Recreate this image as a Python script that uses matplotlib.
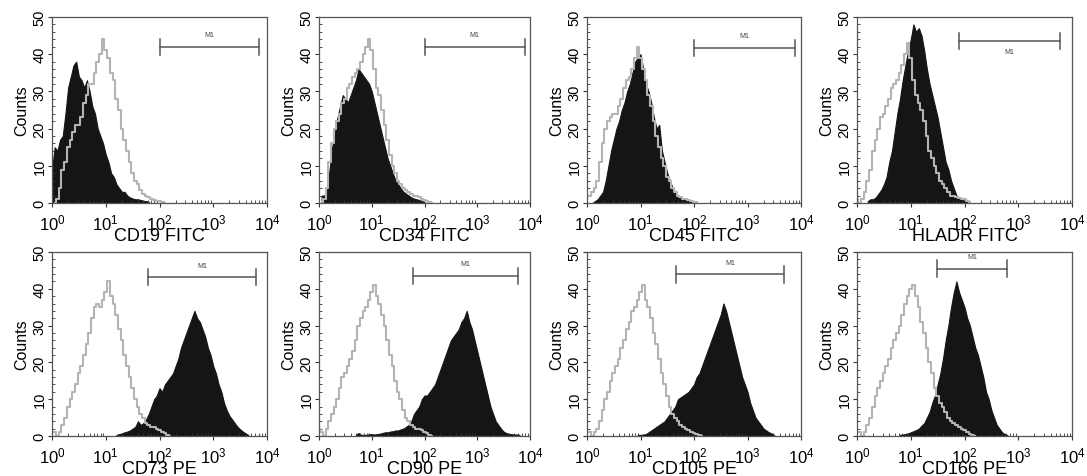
import numpy as np
import matplotlib
matplotlib.use("Agg")
import matplotlib.pyplot as plt
from matplotlib.ticker import LogLocator, MultipleLocator, NullFormatter

plt.rcParams['font.family'] = ['Liberation Sans', 'DejaVu Sans']

# histogram bins are 0.05 decade wide; each series = (first bin in log10, counts)
step = 0.05

markers = ['CD19 FITC', 'CD34 FITC', 'CD45 FITC', 'HLADR FITC',
           'CD73 PE', 'CD90 PE', 'CD105 PE', 'CD166 PE']

# grey outline = isotype control
iso_start = [0.05, 0.05, 0.00, 0.00, 0.00, 0.00, 0.00, 0.00]
cd19_iso = [0, 1, 4, 9, 11, 15, 17, 19, 21, 21, 23, 27, 29, 32, 32, 35, 38, 40, 44, 41,
            39, 35, 33, 28, 25, 20, 17, 14, 11, 8, 6, 5, 3.5, 2.5, 2, 1.5, 1, 0.8, 0.6, 0.5, 0.3, 0]
cd34_iso = [0, 1, 4, 11, 16, 20, 22, 24, 27, 28, 31, 32, 34, 35, 36, 38, 40, 42, 44, 41,
            36, 31, 29, 25, 21, 17, 13, 10, 8, 6, 5, 4, 3.5, 3, 2.5, 2, 1.8, 1.5, 1, 0.8, 0.6, 0.4, 0]
cd45_iso = [2, 2, 3, 4, 6, 11, 16, 20, 22, 23, 24, 24, 26, 28, 31, 33, 34, 36, 39, 42,
            39, 36, 33, 29, 26, 22, 18, 15, 12, 10, 7, 6, 4, 3, 2, 1.5, 1.2, 1, 0.7, 0.5, 0.4, 0.2]
hladr_iso = [1, 0, 1, 3, 6, 9, 14, 17, 20, 23, 24, 26, 28, 31, 32, 33, 35, 37, 40, 43,
             39, 33, 29, 27, 25, 22, 18, 14, 12, 10, 8, 6, 5, 4, 3, 2, 1.8, 1.5, 1.3, 1, 1, 0.6, 0.3]
cd73_iso = [1, 1, 0, 1, 3, 5, 8, 10, 12, 14, 17, 19, 22, 25, 28, 32, 35, 36, 35, 37,
            39, 42, 38, 36, 33, 29, 26, 22, 19, 16, 13, 10, 8, 6, 5, 3.5, 3, 2.5, 2.5, 2,
            1.5, 1, 0.7, 0.4, 0]
cd90_iso = [2, 1, 0, 2, 4, 6, 8, 10, 13, 16, 17, 19, 21, 23, 26, 30, 32, 34, 35, 37,
            39, 41, 38, 36, 33, 30, 26, 22, 19, 15, 12, 10, 7, 5, 4, 3, 2.5, 2, 1.8, 1.5,
            1, 0.7, 0.4, 0]
cd105_iso = [1, 1, 0, 1, 2, 4, 7, 10, 12, 15, 17, 19, 21, 24, 26, 29, 31, 34, 35, 37,
             39, 41, 37, 35, 32, 28, 25, 21, 17, 14, 11, 8, 6, 5, 4, 3, 2.5, 2, 1.5, 1,
             0.8, 0.6, 0.4, 0]
cd166_iso = [1, 1, 0, 1, 3, 5, 8, 11, 13, 15, 17, 19, 21, 24, 26, 28, 30, 33, 36, 38,
             40, 41, 38, 35, 31, 28, 24, 20, 17, 13, 11, 9, 8, 6.5, 5, 4, 3.5, 3, 2.5, 2,
             1.5, 1, 0.6, 0.3, 0]

# black filled = stained sample
stain_start = [0.00, 0.05, 0.10, 0.20, 1.20, 0.70, 0.95, 0.80]
cd19_stain = [9, 15, 14, 17, 18, 24, 31, 34, 37, 38, 34, 33, 31, 33, 30, 26, 24, 20, 18, 16,
              13, 11, 8, 7, 5, 4, 3, 3, 2, 1.5, 1.2, 1, 1, 0.8, 0.6, 0.5, 0.3]
cd34_stain = [2, 2, 3, 9, 15, 19, 23, 26, 29, 28, 27, 29, 31, 33, 36, 35, 34, 33, 32, 30,
              27, 24, 21, 18, 15, 12, 10, 8, 6, 5, 4, 3, 2.5, 2, 1.5, 1.2, 1, 0.8, 0.5, 0.3]
cd45_stain = [0, 0.5, 1, 2, 3, 6, 10, 14, 17, 20, 22, 25, 27, 30, 32, 35, 38, 39, 40, 36,
              32, 30, 27, 23, 20, 21, 14, 11, 8, 6, 4, 3, 2, 1.5, 1, 0.7, 0.5, 0.2]
hladr_stain = [0.5, 1, 1, 1.5, 2.5, 3.5, 5, 7, 11, 14, 19, 24, 28, 33, 37, 41, 44, 48, 46, 47,
               45, 41, 36, 32, 29, 26, 23, 19, 15, 11, 9, 6, 4, 2, 1.5, 1, 0.6, 0.3]
cd73_stain = [0.3, 0.5, 0.7, 1, 1.2, 1.5, 2, 2.5, 4, 3, 3.5, 4.5, 6, 8, 10, 11, 13, 12, 14, 15,
              16, 17, 19, 21, 24, 26, 28, 30, 32, 34, 32, 31, 29, 27, 24, 22, 19, 17, 14, 12,
              9, 7, 5.5, 4.5, 3.5, 2.5, 1.8, 1.2, 0.7, 0.3]
cd90_stain = [0.3, 0.8, 0.3, 0.3, 0.3, 0.5, 0.5, 0.4, 0.5, 0.6, 0.8, 1, 1, 1.2, 1.3, 1.5, 1.5,
              1.8, 2, 2.5, 3, 4, 6, 7, 8, 10, 11, 11, 12, 13, 14, 16, 18, 20, 22, 24, 26, 27,
              28, 29, 31, 32, 34, 31, 29, 26, 23, 20, 17, 14, 11, 8, 6, 4, 3, 2, 1.2, 0.8,
              0.6, 0.5, 0.4, 0.4, 0.3]
cd105_stain = [0.3, 0.3, 0.4, 0.5, 1, 1.5, 2, 2.5, 3, 3.5, 4, 5, 6, 7, 8, 10, 10.5, 11, 11.5,
               12, 13, 14, 16, 17, 19, 21, 23, 25, 27, 29, 31, 33, 36, 34, 31, 28, 25, 22, 19,
               16, 14, 12, 9, 7, 5, 4, 3, 2, 1.5, 1, 0.7, 0.3]
cd166_stain = [0.3, 0.4, 0.5, 0.7, 1, 1.3, 1.6, 2, 2.8, 3.5, 5, 6.5, 9, 11, 14, 17, 21, 26, 30,
               35, 39, 42, 39, 37, 35, 32, 30, 27, 24, 22, 19, 16, 12, 10, 7, 5, 3, 2, 1, 0.5, 0.2]

iso = [cd19_iso, cd34_iso, cd45_iso, hladr_iso, cd73_iso, cd90_iso, cd105_iso, cd166_iso]
stain = [cd19_stain, cd34_stain, cd45_stain, hladr_stain,
         cd73_stain, cd90_stain, cd105_stain, cd166_stain]

# M1 gate: (from, to) in fluorescence units, height in counts, label above/below
m1_lo = [100, 100, 98, 78, 62, 60, 46, 31]
m1_hi = [7200, 7900, 7800, 5900, 6200, 5900, 4800, 630]
m1_y = [42, 42, 41.7, 43.5, 43.2, 43.5, 43.9, 45.5]
m1_label_above = [True, True, True, False, True, True, True, True]

W, H = 1087, 477
fig = plt.figure(figsize=(W / 100, H / 100), dpi=100)

lefts = [52, 319, 587, 857]
widths = [215, 211, 214, 215]
tops = [18, 253]
heights = [186, 184]

for i in range(8):
    r, c = divmod(i, 4)
    ax = fig.add_axes([lefts[c] / W, 1 - (tops[r] + heights[r]) / H,
                       widths[c] / W, heights[r] / H])
    xs = 10 ** (stain_start[i] + step * np.arange(len(stain[i])))
    ax.fill_between(xs, stain[i], color='#151515', lw=0.8, edgecolor='#151515')
    xi = 10 ** (iso_start[i] + step * np.arange(len(iso[i])))
    ax.step(xi, iso[i], where='mid', color='#b4b4b4', lw=1.5)

    # M1 gate
    lo, hi, y = m1_lo[i], m1_hi[i], m1_y[i]
    ax.plot([lo, hi], [y, y], color='#555555', lw=1.1)
    ax.plot([lo, lo], [y - 2.2, y + 2.2], color='#555555', lw=1.1)
    ax.plot([hi, hi], [y - 2.2, y + 2.2], color='#555555', lw=1.1)
    mid = np.sqrt(lo * hi)
    if m1_label_above[i]:
        ax.text(mid, y + 2.3, 'M1', fontsize=5, ha='center', va='bottom', color='#444444')
    else:
        ax.text(mid, y - 1.8, 'M1', fontsize=5, ha='center', va='top', color='#444444')

    ax.set_xscale('log')
    ax.set_xlim(1, 1e4)
    ax.set_ylim(0, 50)
    ax.xaxis.set_major_locator(LogLocator(base=10, numticks=10))
    ax.xaxis.set_minor_locator(LogLocator(base=10, subs=np.arange(2, 10), numticks=10))
    ax.xaxis.set_minor_formatter(NullFormatter())
    ax.yaxis.set_major_locator(MultipleLocator(10))
    ax.yaxis.set_minor_locator(MultipleLocator(2))

    ax.tick_params(which='major', direction='out', length=3, width=0.8, color='#333333')
    ax.tick_params(which='minor', direction='in', length=2, width=0.6, color='#333333')
    ax.tick_params(axis='x', labelsize=12, pad=4)
    ax.tick_params(axis='y', labelsize=10.5, pad=1, labelrotation=90)
    for lab in ax.get_yticklabels():
        lab.set_va('center')

    for s in ax.spines.values():
        s.set_color('#555555')
        s.set_linewidth(0.9)

    ax.set_xlabel(markers[i], fontsize=13, labelpad=-4)
    ax.set_ylabel('Counts', fontsize=11.5, labelpad=2,
                  family=['Liberation Sans Narrow', 'Liberation Sans', 'DejaVu Sans'])

fig.savefig('out.png', dpi=100)
